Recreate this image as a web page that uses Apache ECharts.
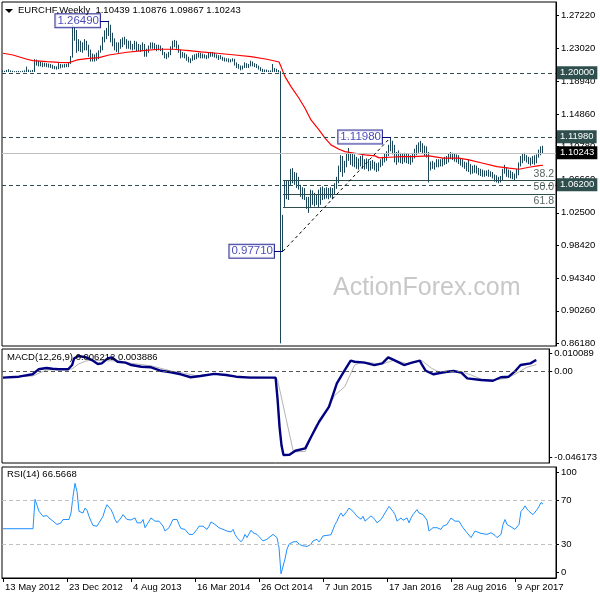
<!DOCTYPE html>
<html><head><meta charset="utf-8">
<script src="https://cdn.jsdelivr.net/npm/echarts@6/dist/echarts.min.js"></script>
<style>html,body{margin:0;padding:0;background:#fff}#c{width:600px;height:600px}</style>
</head><body><div id="c"></div><script>
// ---- data ----
const firstWeekUTC = [2012, 4, 13];          // first weekly bar: 13 May 2012
const slotCount = 277;                        // 271 bars + chart shift on the right
const tickLabels = ['13 May 2012','23 Dec 2012','4 Aug 2013','16 Mar 2014','26 Oct 2014','7 Jun 2015','17 Jan 2016','28 Aug 2016','9 Apr 2017'];
const priceAxisLabels = [1.2722,1.2302,1.1894,1.1486,1.1078,1.0666,1.0250,0.9842,0.9434,0.9026,0.8618];
const macdAxisLabels = [0.010089, 0, -0.046173];
const rsiAxisLabels = ['100', '70', '30', '0'];
const rsiLabelSpots = [95, 70, 30, 5];       // where the indicator window prints them

// weekly bars: [open, high, low, close]
const weeklyBars = [
[1.2011,1.2030,1.2009,1.2011],[1.2011,1.2025,1.2009,1.2012],[1.2012,1.2035,1.2009,1.2011],[1.2011,1.2045,1.2009,1.2012],
[1.2012,1.2030,1.2009,1.2010],[1.2010,1.2025,1.2008,1.2010],[1.2010,1.2020,1.2008,1.2010],[1.2010,1.2022,1.2008,1.2010],
[1.2010,1.2024,1.2008,1.2010],[1.2010,1.2020,1.2008,1.2010],[1.2010,1.2025,1.2008,1.2010],[1.2010,1.2030,1.2008,1.2011],
[1.2011,1.2077,1.2009,1.2012],[1.2012,1.2040,1.2009,1.2011],[1.2011,1.2030,1.2009,1.2012],[1.2012,1.2035,1.2009,1.2012],
[1.2012,1.2170,1.2010,1.2100],[1.2100,1.2165,1.2090,1.2120],[1.2120,1.2150,1.2080,1.2100],[1.2100,1.2140,1.2080,1.2110],
[1.2110,1.2130,1.2070,1.2090],[1.2090,1.2125,1.2075,1.2095],[1.2095,1.2120,1.2070,1.2085],[1.2085,1.2115,1.2065,1.2090],
[1.2090,1.2110,1.2060,1.2075],[1.2075,1.2100,1.2050,1.2065],[1.2065,1.2085,1.2045,1.2055],[1.2055,1.2080,1.2040,1.2050],
[1.2050,1.2120,1.2045,1.2070],[1.2070,1.2110,1.2055,1.2090],[1.2090,1.2105,1.2065,1.2080],[1.2080,1.2110,1.2065,1.2085],
[1.2085,1.2110,1.2070,1.2080],[1.2080,1.2130,1.2070,1.2120],[1.2120,1.2210,1.2110,1.2200],[1.2200,1.2597,1.2190,1.2480],
[1.2480,1.2570,1.2400,1.2500],[1.2500,1.2535,1.2250,1.2330],[1.2330,1.2420,1.2270,1.2300],[1.2300,1.2400,1.2260,1.2350],
[1.2350,1.2380,1.2250,1.2300],[1.2300,1.2420,1.2280,1.2380],[1.2380,1.2400,1.2280,1.2340],[1.2340,1.2350,1.2200,1.2250],
[1.2250,1.2290,1.2140,1.2180],[1.2180,1.2240,1.2140,1.2150],[1.2150,1.2230,1.2140,1.2190],[1.2190,1.2250,1.2150,1.2180],
[1.2180,1.2280,1.2170,1.2260],[1.2260,1.2340,1.2250,1.2300],[1.2300,1.2450,1.2280,1.2420],[1.2420,1.2530,1.2380,1.2500],
[1.2500,1.2560,1.2420,1.2520],[1.2520,1.2649,1.2460,1.2560],[1.2560,1.2600,1.2380,1.2450],[1.2450,1.2500,1.2330,1.2380],
[1.2380,1.2430,1.2280,1.2300],[1.2300,1.2380,1.2260,1.2280],[1.2280,1.2380,1.2250,1.2330],[1.2330,1.2420,1.2300,1.2380],
[1.2380,1.2440,1.2320,1.2410],[1.2410,1.2450,1.2350,1.2390],[1.2390,1.2420,1.2300,1.2330],[1.2330,1.2400,1.2300,1.2370],
[1.2370,1.2400,1.2290,1.2320],[1.2320,1.2360,1.2280,1.2310],[1.2310,1.2400,1.2290,1.2370],[1.2370,1.2390,1.2270,1.2290],
[1.2290,1.2360,1.2270,1.2330],[1.2330,1.2350,1.2260,1.2280],[1.2280,1.2380,1.2270,1.2350],[1.2350,1.2360,1.2200,1.2220],
[1.2220,1.2300,1.2200,1.2270],[1.2270,1.2340,1.2250,1.2320],[1.2320,1.2380,1.2300,1.2360],[1.2360,1.2380,1.2300,1.2340],
[1.2340,1.2370,1.2290,1.2320],[1.2320,1.2350,1.2270,1.2290],[1.2290,1.2350,1.2280,1.2320],[1.2320,1.2340,1.2270,1.2300],
[1.2300,1.2310,1.2220,1.2250],[1.2250,1.2260,1.2180,1.2200],[1.2200,1.2240,1.2170,1.2220],[1.2220,1.2260,1.2190,1.2240],
[1.2240,1.2330,1.2220,1.2310],[1.2310,1.2400,1.2290,1.2370],[1.2370,1.2410,1.2320,1.2390],[1.2390,1.2400,1.2300,1.2330],
[1.2330,1.2350,1.2250,1.2270],[1.2270,1.2290,1.2180,1.2210],[1.2210,1.2260,1.2190,1.2220],[1.2220,1.2250,1.2180,1.2200],
[1.2200,1.2230,1.2150,1.2170],[1.2170,1.2200,1.2130,1.2150],[1.2150,1.2180,1.2120,1.2170],[1.2170,1.2220,1.2150,1.2200],
[1.2200,1.2230,1.2160,1.2190],[1.2190,1.2240,1.2170,1.2210],[1.2210,1.2250,1.2190,1.2230],[1.2230,1.2250,1.2180,1.2210],
[1.2210,1.2240,1.2180,1.2220],[1.2220,1.2230,1.2180,1.2200],[1.2200,1.2220,1.2170,1.2190],[1.2190,1.2250,1.2180,1.2230],
[1.2230,1.2260,1.2200,1.2240],[1.2240,1.2260,1.2200,1.2230],[1.2230,1.2250,1.2190,1.2210],[1.2210,1.2230,1.2180,1.2200],
[1.2200,1.2220,1.2160,1.2180],[1.2180,1.2220,1.2170,1.2190],[1.2190,1.2200,1.2150,1.2170],[1.2170,1.2190,1.2140,1.2160],
[1.2160,1.2180,1.2140,1.2150],[1.2150,1.2180,1.2130,1.2145],[1.2145,1.2170,1.2130,1.2150],[1.2150,1.2180,1.2140,1.2170],
[1.2170,1.2175,1.2090,1.2110],[1.2110,1.2130,1.2060,1.2080],[1.2080,1.2110,1.2050,1.2070],[1.2070,1.2090,1.2030,1.2050],
[1.2050,1.2090,1.2040,1.2070],[1.2070,1.2130,1.2060,1.2110],[1.2110,1.2120,1.2060,1.2080],[1.2080,1.2110,1.2060,1.2090],
[1.2090,1.2150,1.2080,1.2130],[1.2130,1.2140,1.2080,1.2100],[1.2100,1.2120,1.2070,1.2095],[1.2095,1.2110,1.2060,1.2080],
[1.2080,1.2090,1.2040,1.2060],[1.2060,1.2070,1.2020,1.2040],[1.2040,1.2050,1.2010,1.2020],[1.2020,1.2040,1.2010,1.2030],
[1.2030,1.2040,1.2010,1.2025],[1.2025,1.2030,1.2009,1.2012],[1.2012,1.2030,1.2009,1.2015],[1.2015,1.2110,1.2010,1.2050],
[1.2050,1.2060,1.2010,1.2040],[1.2040,1.2050,1.2009,1.2030],[1.2030,1.2035,1.2005,1.2010],[1.2010,1.2020,0.8620,1.0150],
[1.0150,1.0225,0.9771,0.9950],[1.0350,1.0660,1.0325,1.0580],[1.0580,1.0650,1.0420,1.0500],[1.0500,1.0660,1.0410,1.0620],
[1.0620,1.0800,1.0600,1.0700],[1.0700,1.0810,1.0620,1.0680],[1.0680,1.0760,1.0600,1.0650],[1.0650,1.0750,1.0560,1.0620],
[1.0620,1.0700,1.0540,1.0580],[1.0580,1.0600,1.0450,1.0480],[1.0480,1.0570,1.0420,1.0520],[1.0520,1.0560,1.0410,1.0440],
[1.0440,1.0450,1.0300,1.0380],[1.0380,1.0450,1.0250,1.0320],[1.0320,1.0540,1.0310,1.0480],[1.0480,1.0530,1.0350,1.0430],
[1.0430,1.0500,1.0330,1.0380],[1.0380,1.0480,1.0350,1.0450],[1.0450,1.0540,1.0320,1.0400],[1.0400,1.0570,1.0350,1.0520],
[1.0520,1.0580,1.0410,1.0450],[1.0450,1.0560,1.0420,1.0500],[1.0500,1.0570,1.0430,1.0480],[1.0480,1.0560,1.0420,1.0530],
[1.0530,1.0570,1.0440,1.0470],[1.0470,1.0560,1.0420,1.0520],[1.0520,1.0620,1.0480,1.0580],[1.0580,1.0700,1.0550,1.0650],
[1.0650,1.0840,1.0620,1.0800],[1.0800,1.0970,1.0760,1.0880],[1.0880,1.0960,1.0700,1.0790],[1.0790,1.0900,1.0750,1.0850],
[1.0850,1.0990,1.0820,1.0950],[1.0950,1.1060,1.0900,1.0980],[1.0980,1.1000,1.0850,1.0900],[1.0900,1.0990,1.0830,1.0930],
[1.0930,1.0980,1.0820,1.0870],[1.0870,1.0950,1.0800,1.0850],[1.0850,1.0930,1.0790,1.0880],[1.0880,1.0960,1.0830,1.0900],
[1.0900,1.0970,1.0800,1.0840],[1.0840,1.0920,1.0790,1.0860],[1.0860,1.0930,1.0800,1.0850],[1.0850,1.0920,1.0770,1.0820],
[1.0820,1.0900,1.0780,1.0870],[1.0870,1.0910,1.0800,1.0840],[1.0840,1.0890,1.0780,1.0820],[1.0820,1.0870,1.0760,1.0800],
[1.0800,1.0880,1.0770,1.0850],[1.0850,1.0920,1.0820,1.0880],[1.0880,1.0950,1.0840,1.0920],[1.0920,1.0990,1.0880,1.0950],
[1.0950,1.1020,1.0900,1.0990],[1.0990,1.1100,1.0960,1.1060],[1.1060,1.1198,1.1020,1.1120],[1.1120,1.1150,1.0980,1.1020],
[1.1020,1.1100,1.0880,1.0950],[1.0950,1.1010,1.0850,1.0980],[1.0980,1.1030,1.0880,1.0950],[1.0950,1.1000,1.0870,1.0920],
[1.0920,1.0990,1.0860,1.0950],[1.0950,1.1000,1.0880,1.0930],[1.0930,1.0990,1.0870,1.0950],[1.0950,1.0990,1.0860,1.0900],
[1.0900,1.0970,1.0850,1.0940],[1.0940,1.1000,1.0880,1.0960],[1.0960,1.1050,1.0930,1.1000],[1.1000,1.1100,1.0970,1.1060],
[1.1060,1.1130,1.1000,1.1040],[1.1040,1.1150,1.1010,1.1090],[1.1090,1.1120,1.0990,1.1020],[1.1020,1.1090,1.0960,1.1050],
[1.1050,1.1080,1.0940,1.0970],[1.0970,1.1010,1.0630,1.0830],[1.0830,1.0890,1.0780,1.0850],[1.0850,1.0900,1.0800,1.0830],
[1.0830,1.0880,1.0790,1.0860],[1.0860,1.0920,1.0820,1.0880],[1.0880,1.0920,1.0820,1.0850],[1.0850,1.0920,1.0830,1.0880],
[1.0880,1.0930,1.0830,1.0890],[1.0890,1.0950,1.0850,1.0920],[1.0920,1.0960,1.0860,1.0900],[1.0900,1.0990,1.0880,1.0960],
[1.0960,1.1010,1.0920,1.0980],[1.0980,1.1000,1.0910,1.0950],[1.0950,1.0990,1.0890,1.0920],[1.0920,1.0980,1.0880,1.0950],
[1.0950,1.0970,1.0860,1.0900],[1.0900,1.0930,1.0840,1.0870],[1.0870,1.0920,1.0820,1.0850],[1.0850,1.0890,1.0800,1.0830],
[1.0830,1.0880,1.0770,1.0800],[1.0800,1.0920,1.0760,1.0790],[1.0790,1.0860,1.0730,1.0760],[1.0760,1.0840,1.0740,1.0780],
[1.0780,1.0850,1.0750,1.0820],[1.0820,1.0840,1.0740,1.0770],[1.0770,1.0810,1.0720,1.0760],[1.0760,1.0800,1.0710,1.0750],
[1.0750,1.0790,1.0700,1.0740],[1.0740,1.0780,1.0700,1.0730],[1.0730,1.0780,1.0710,1.0750],[1.0750,1.0790,1.0700,1.0740],
[1.0740,1.0770,1.0700,1.0720],[1.0720,1.0760,1.0680,1.0710],[1.0710,1.0730,1.0640,1.0680],[1.0680,1.0720,1.0630,1.0660],
[1.0660,1.0700,1.0620,1.0650],[1.0650,1.0710,1.0630,1.0680],[1.0680,1.0800,1.0660,1.0770],[1.0770,1.0850,1.0740,1.0800],
[1.0800,1.0820,1.0700,1.0740],[1.0740,1.0790,1.0690,1.0720],[1.0720,1.0780,1.0680,1.0710],[1.0710,1.0760,1.0670,1.0700],
[1.0700,1.0740,1.0660,1.0690],[1.0690,1.0800,1.0680,1.0740],[1.0740,1.0880,1.0720,1.0850],[1.0850,1.0960,1.0830,1.0920],
[1.0920,1.0990,1.0870,1.0960],[1.0960,1.1000,1.0900,1.0950],[1.0950,1.0970,1.0880,1.0910],[1.0910,1.0950,1.0860,1.0900],
[1.0900,1.0940,1.0840,1.0880],[1.0880,1.0960,1.0860,1.0920],[1.0920,1.0970,1.0850,1.0890],[1.0890,1.0980,1.0870,1.0960],
[1.0960,1.1040,1.0940,1.1000],[1.1000,1.1080,1.0970,1.1044],[1.10439,1.10876,1.09867,1.10243]
];

// red moving average, read at sample bars: [barIndex, value]
const maPoints = [[0,1.2244],[5,1.2222],[12,1.2169],[15,1.2152],[22,1.2140],[28,1.2131],[33,1.2127],[37,1.2160],[42,1.2177],[48,1.2190],[53,1.2222],[62,1.2256],[70,1.2276],[78,1.2294],[85,1.2294],[93,1.2276],[99,1.2260],[107,1.2244],[116,1.2222],[124,1.2201],[132,1.2169],[138,1.2135],[139,1.2077],[141,1.1952],[144,1.1827],[148,1.1682],[151,1.1557],[154,1.1411],[158,1.1286],[161,1.1183],[164,1.1099],[168,1.1045],[171,1.1015],[176,1.0995],[181,1.0974],[186,1.0962],[188,1.0937],[193,1.0945],[200,1.0953],[205,1.0953],[213,1.0962],[220,1.0933],[228,1.0933],[233,1.0912],[240,1.0870],[247,1.0828],[253,1.0808],[258,1.0795],[263,1.0820],[268,1.0841],[270,1.0845]];

// MACD(12,26,9) main and signal
const macdMain = [[0,-0.0032],[8,-0.0027],[15,-0.0014],[18,0.0013],[22,0.0020],[25,0.0016],[28,0.0013],[33,0.0013],[35,0.0036],[36,0.0072],[38,0.0085],[42,0.0078],[45,0.0063],[48,0.0042],[50,0.0045],[53,0.0072],[55,0.0078],[58,0.0054],[62,0.0049],[65,0.0036],[70,0.0027],[75,0.0024],[80,0.0005],[85,-0.0003],[90,-0.0014],[95,-0.0030],[100,-0.0023],[107,-0.0012],[113,-0.0018],[118,-0.0027],[125,-0.0032],[132,-0.0032],[138,-0.0032],[139,-0.0150],[140,-0.0300],[141,-0.0400],[142,-0.0451],[143,-0.0461],[145,-0.0450],[148,-0.0428],[153,-0.0415],[156,-0.0352],[160,-0.0271],[165,-0.0190],[169,-0.0063],[173,0.0009],[176,0.0060],[178,0.0054],[183,0.0049],[188,0.0036],[192,0.0045],[195,0.0078],[198,0.0063],[203,0.0036],[207,0.0049],[211,0.0060],[212,0.0040],[214,0.0005],[218,-0.0014],[223,-0.0003],[228,0.0004],[232,-0.0005],[235,-0.0036],[242,-0.0045],[248,-0.0049],[252,-0.0030],[256,-0.0027],[259,0.0000],[262,0.0036],[267,0.0045],[269,0.0058],[270,0.006212]];
const macdSignal = [[0,-0.0032],[15,-0.0023],[22,0.0009],[32,0.0013],[35,0.0015],[38,0.0040],[42,0.0058],[45,0.0063],[52,0.0059],[58,0.0059],[65,0.0045],[75,0.0032],[85,0.0004],[92,-0.0009],[98,-0.0022],[107,-0.0013],[118,-0.0027],[138,-0.0032],[139,-0.0045],[147,-0.0434],[148,-0.0438],[153,-0.0432],[158,-0.0298],[163,-0.0226],[168,-0.0127],[173,-0.0081],[178,0.0036],[182,0.0054],[188,0.0045],[193,0.0045],[198,0.0063],[205,0.0042],[212,0.0060],[217,0.0018],[222,-0.0009],[227,0.0000],[232,0.0000],[237,-0.0018],[242,-0.0040],[248,-0.0045],[255,-0.0036],[260,-0.0009],[265,0.0023],[270,0.003886]];

// RSI(14)
const rsiPoints = [[0,44.4],[15,44.4],[16,70.8],[18,60.1],[19,58.6],[20,55.6],[22,56.2],[23,54.1],[24,55.0],[25,51.2],[27,48.2],[28,46.7],[29,49.7],[30,52.7],[31,53.3],[33,52.7],[34,58.6],[35,73.4],[36,85.3],[37,77.9],[38,60.0],[39,61.6],[40,58.6],[41,63.0],[42,61.0],[43,55.6],[44,51.2],[45,47.3],[47,46.7],[48,49.7],[50,55.6],[51,61.6],[52,66.0],[53,64.5],[54,61.6],[55,57.8],[56,52.7],[57,49.7],[58,51.2],[59,54.1],[60,57.1],[61,56.2],[62,52.7],[63,54.1],[64,52.3],[65,51.2],[66,54.1],[67,49.7],[68,51.2],[69,49.7],[70,52.7],[71,45.3],[72,48.2],[73,51.2],[74,54.1],[75,52.7],[76,51.2],[77,49.7],[78,51.2],[79,51.0],[80,46.7],[81,42.3],[82,43.8],[83,45.3],[84,47.0],[85,52.7],[86,54.1],[87,52.7],[88,48.2],[89,44.5],[90,43.8],[91,43.8],[92,42.3],[93,39.3],[94,38.5],[95,39.3],[97,43.8],[98,46.7],[99,46.0],[100,46.7],[101,45.3],[102,43.8],[103,46.7],[104,50.5],[105,49.7],[106,48.2],[107,46.7],[108,45.3],[110,43.8],[112,42.3],[113,41.4],[114,41.5],[115,43.8],[116,39.3],[117,36.4],[118,35.5],[119,32.6],[120,34.9],[121,39.3],[122,36.4],[123,37.9],[124,43.0],[125,40.8],[126,40.8],[127,39.3],[128,37.3],[130,33.4],[132,34.9],[133,33.4],[135,39.3],[136,38.4],[137,36.4],[138,27.5],[139,3.8],[140,3.8],[141,17.1],[142,26.0],[143,30.4],[145,32.5],[147,32.8],[148,30.4],[149,31.3],[150,29.0],[152,28.4],[153,26.6],[154,30.4],[155,33.4],[157,34.9],[158,32.5],[159,34.9],[160,37.9],[162,38.4],[164,39.0],[165,38.4],[166,48.2],[167,51.2],[168,55.6],[169,58.6],[170,55.6],[171,55.6],[172,60.1],[173,63.0],[174,61.6],[175,60.1],[176,58.6],[177,55.6],[179,53.0],[180,55.6],[181,51.2],[182,52.5],[184,56.0],[185,55.0],[186,52.7],[187,49.7],[189,52.7],[190,55.6],[191,58.6],[192,61.6],[193,64.5],[194,66.0],[195,60.0],[196,57.1],[197,51.2],[198,52.7],[199,54.1],[200,52.0],[202,54.1],[203,49.7],[204,54.0],[205,57.1],[206,58.6],[207,61.6],[208,58.6],[209,60.0],[210,57.1],[211,58.6],[212,52.0],[213,42.3],[214,43.8],[215,45.3],[216,46.7],[217,45.3],[219,43.8],[220,46.7],[221,48.2],[222,48.2],[223,51.2],[224,54.0],[225,53.3],[226,51.2],[227,49.7],[228,51.2],[229,48.2],[230,45.3],[231,43.8],[232,40.8],[233,39.3],[234,36.4],[235,37.5],[236,42.3],[237,43.8],[239,40.2],[240,39.3],[242,39.3],[244,40.8],[245,40.0],[246,38.4],[247,36.4],[248,34.9],[249,39.3],[250,48.2],[251,52.7],[252,48.2],[253,46.7],[254,46.1],[255,45.3],[256,43.8],[257,45.3],[258,48.2],[259,60.1],[260,62.1],[261,65.0],[262,62.1],[263,60.1],[264,59.2],[265,57.1],[266,57.0],[267,61.6],[268,64.5],[269,68.0],[270,66.57]];

// horizontal levels and annotations
const dashedLevels = [1.2000, 1.1198, 1.0620];
const currentPrice = 1.10243;
const fibLow = [140, 0.9771], fibHigh = [194, 1.1198];
const fibRatios = [38.2, 50.0, 61.8];
const priceNotes = [[53, 1.2649, '1.26490'], [194, 1.1198, '1.11980'], [140, 0.9771, '0.97710']];

// ---- chart ----
const MONTHS = ['Jan','Feb','Mar','Apr','May','Jun','Jul','Aug','Sep','Oct','Nov','Dec'];
const categories = [];
const t0 = Date.UTC(firstWeekUTC[0], firstWeekUTC[1], firstWeekUTC[2]);
for (let i = 0; i < slotCount; i++) {
  const d = new Date(t0 + i * 7 * 86400000);
  categories.push(d.getUTCDate() + ' ' + MONTHS[d.getUTCMonth()] + ' ' + d.getUTCFullYear());
}
const FONT = '"Liberation Sans", Arial, sans-serif';
const BAR = '#194659';
const NAVY = '#000080';
const candleData = weeklyBars.map(b => [b[0], b[3], b[2], b[1]]);

const boxLabel = (text, bg) => ({show: true, position: 'end', distance: 1, formatter: text, color: '#fff',
  backgroundColor: bg, padding: [2, 3, 1, 3], fontSize: 9.5, fontFamily: FONT});

const mainMarks = dashedLevels.map(v => ({yAxis: v, lineStyle: {type: [4, 3], color: '#2f4f4f', width: 1},
  label: boxLabel(v.toFixed(5), '#2f4f4f')}));
mainMarks.push({yAxis: currentPrice, lineStyle: {type: 'solid', color: '#c0c0c0', width: 1},
  label: boxLabel(currentPrice.toFixed(5), '#000')});
fibRatios.forEach(r => {
  const v = fibHigh[1] - (fibHigh[1] - fibLow[1]) * r / 100;
  mainMarks.push([{coord: [fibLow[0], v], lineStyle: {type: 'solid', color: '#2f4f4f', width: 1},
    label: {show: true, position: 'insideEndTop', distance: 1, formatter: r.toFixed(1), color: '#5a6464', fontSize: 10.5, fontFamily: FONT}},
    {coord: [slotCount - 1, v]}]);
});
mainMarks.push([{coord: fibLow, lineStyle: {type: [3, 3], color: '#000', width: 1}, label: {show: false}}, {coord: fibHigh}]);

const xAxes = [0, 1, 2].map(i => ({
  type: 'category', gridIndex: i, data: categories, boundaryGap: true,
  axisLine: {show: i === 2, lineStyle: {color: '#000'}},
  axisTick: {show: i === 2, interval: 31, alignWithLabel: true, length: 4, lineStyle: {color: '#000'}},
  axisLabel: {show: i === 2, interval: 31, align: 'left', margin: 4, fontSize: 9.5, color: '#000', fontFamily: FONT, padding: [0, 0, 0, 2]},
  splitLine: {show: false}
}));
const yCommon = {type: 'value', position: 'right', splitLine: {show: false},
  axisLine: {show: true, lineStyle: {color: '#000'}}};
const yAxes = [
  Object.assign({}, yCommon, {gridIndex: 0, min: 0.8587, max: 1.2884,
    axisTick: {show: true, length: 3, customValues: priceAxisLabels, lineStyle: {color: '#000'}},
    axisLabel: {customValues: priceAxisLabels, formatter: v => v.toFixed(5), fontSize: 9.5, color: '#000', margin: 5, fontFamily: FONT}}),
  Object.assign({}, yCommon, {gridIndex: 1, min: -0.04943, max: 0.01229,
    axisTick: {show: true, length: 3, customValues: macdAxisLabels, lineStyle: {color: '#000'}},
    axisLabel: {customValues: macdAxisLabels, formatter: v => v === 0 ? '0.00' : String(v), fontSize: 9.5, color: '#000', margin: 5, fontFamily: FONT}}),
  Object.assign({}, yCommon, {gridIndex: 2, min: 0, max: 100,
    axisTick: {show: true, length: 3, customValues: rsiLabelSpots, lineStyle: {color: '#000'}},
    axisLabel: {customValues: rsiLabelSpots, formatter: v => rsiAxisLabels[rsiLabelSpots.indexOf(v)],
      fontSize: 9.5, color: '#000', margin: 5, fontFamily: FONT}})
];

const option = {
  animation: false,
  backgroundColor: '#fff',
  grid: [
    {left: 2, top: 2, width: 554, height: 344, show: true, borderColor: '#000', borderWidth: 1},
    {left: 2, top: 349, width: 554, height: 114, show: true, borderColor: '#000', borderWidth: 1},
    {left: 2, top: 467, width: 554, height: 111, show: true, borderColor: '#000', borderWidth: 1}
  ],
  xAxis: xAxes,
  yAxis: yAxes,
  graphic: [
    {type: 'text', left: 333, top: 276, z: 0, style: {text: 'ActionForex.com', fill: '#c8c8c8', font: '25px "Liberation Sans", Arial'}},
    {type: 'polygon', z: 100, shape: {points: [[5, 9], [13, 9], [9, 13]]}, style: {fill: '#000'}},
    {type: 'text', left: 18, top: 5, z: 100, style: {text: 'EURCHF,Weekly  1.10439 1.10876 1.09867 1.10243', fill: '#000', font: '9.5px "Liberation Sans", Arial'}},
    {type: 'text', left: 7, top: 352, z: 100, style: {text: 'MACD(12,26,9) 0.006212 0.003886', fill: '#000', font: '9.5px "Liberation Sans", Arial'}},
    {type: 'text', left: 7, top: 469, z: 100, style: {text: 'RSI(14) 66.5668', fill: '#000', font: '9.5px "Liberation Sans", Arial'}}
  ],
  series: [
    {type: 'candlestick', name: 'EURCHF', xAxisIndex: 0, yAxisIndex: 0, data: candleData, barWidth: 1,
      itemStyle: {color: BAR, color0: BAR, borderColor: BAR, borderColor0: BAR, borderWidth: 1},
      markLine: {symbol: ['none', 'none'], silent: true, animation: false, data: mainMarks}},
    {type: 'line', name: 'MA', xAxisIndex: 0, yAxisIndex: 0, data: maPoints, showSymbol: false, smooth: false,
      lineStyle: {color: '#ff0000', width: 1.2}, z: 3},
    {type: 'scatter', name: 'notes', xAxisIndex: 0, yAxisIndex: 0, symbolSize: 0, z: 6,
      data: priceNotes.map(n => ({value: [n[0], n[1]], label: {formatter: n[2]}})),
      label: {show: true, position: 'left', distance: 9, color: '#1a1aa6', fontSize: 11.5, fontFamily: FONT,
        backgroundColor: '#fff', borderColor: NAVY, borderWidth: 1, padding: [1, 1, 0, 2]},
      markLine: {symbol: ['none', 'none'], silent: true, label: {show: false}, lineStyle: {type: 'solid', color: NAVY, width: 1},
        data: priceNotes.map(n => [{coord: [n[0] - 5, n[1]]}, {coord: [n[0], n[1]]}])}},
    {type: 'line', name: 'MACD', xAxisIndex: 1, yAxisIndex: 1, data: macdMain, showSymbol: false,
      lineStyle: {color: NAVY, width: 2.4}, z: 4,
      markLine: {symbol: ['none', 'none'], silent: true, label: {show: false},
        lineStyle: {type: [4, 3], color: '#555', width: 1}, data: [{yAxis: 0}]}},
    {type: 'line', name: 'Signal', xAxisIndex: 1, yAxisIndex: 1, data: macdSignal, showSymbol: false,
      lineStyle: {color: '#b4b4b4', width: 1}, z: 3},
    {type: 'line', name: 'RSI', xAxisIndex: 2, yAxisIndex: 2, data: rsiPoints, showSymbol: false,
      lineStyle: {color: '#1e90ff', width: 1},
      markLine: {symbol: ['none', 'none'], silent: true, label: {show: false},
        lineStyle: {type: [4, 3], color: '#c0c0c0', width: 1}, data: [{yAxis: 70}, {yAxis: 30}]}}
  ]
};
const chart = echarts.init(document.getElementById('c'));
chart.setOption(option);
</script></body></html>
